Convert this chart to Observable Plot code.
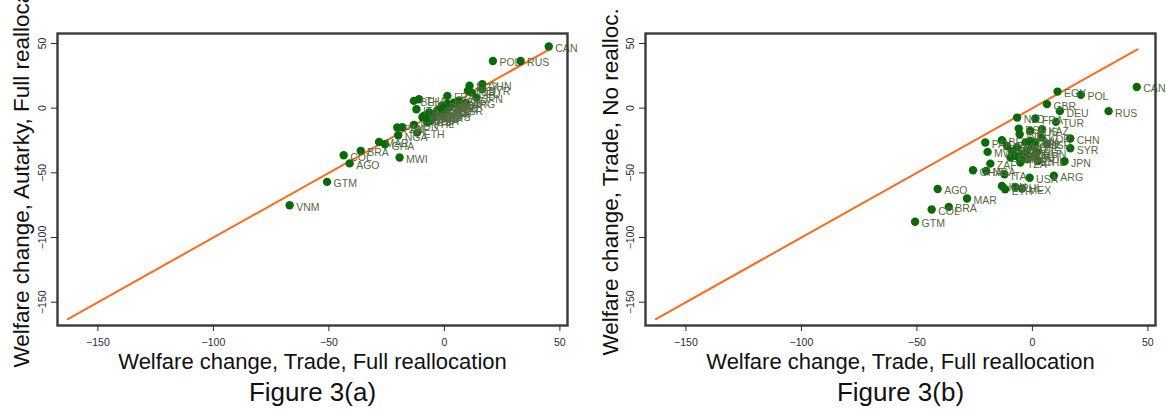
<!DOCTYPE html>
<html><head><meta charset="utf-8">
<script src="https://cdn.jsdelivr.net/npm/d3@7"></script>
<script src="https://cdn.jsdelivr.net/npm/@observablehq/plot@0.6"></script>
<style>
html,body{margin:0;padding:0;background:#fff;}
#wrap{position:relative;width:1166px;height:409px;overflow:hidden;}
#pa,#pb{position:absolute;top:0;width:583px;height:409px;}
#pa{left:0}#pb{left:583px}
</style></head><body><div id="wrap"><div id="pa"></div><div id="pb"></div></div>
<script>
const countries = ["CAN","POL","RUS","EGY","GBR","DEU","TUR","CHN","SYR","JPN","ARG","USA","AGO","MAR","BRA","COL","GTM","VNM","GHA","MWI","PAK","ZAF","NGA","FRA","NLD","KAZ","ESP","IND","AUS","KOR","BEL","ITA","IDN","ETH","MEX","PHL","THA","IRN","SAU","BGD","UKR","SWE","CHE","AUT","HUN","KEN","ROU","CZE","DNK","FIN","TZA","PER","CHL","ISR"];
const tradeFull      = [45.2,21.0,33.0,10.9,6.3,11.9,10.2,16.4,16.4,13.9,9.3,-1.2,-41.0,-28.3,-36.2,-43.6,-50.8,-67.0,-25.7,-19.4,-20.4,-18.2,-20.0,1.3,-6.6,4.2,-5.9,-5.5,-0.9,4.0,-13.2,-12.1,-13.2,-11.8,-4.5,-7.4,-11.0,-8.8,-7.4,-5.9,-4.5,-2.3,-0.1,0.6,2.0,-9.5,-6.6,-3.0,-0.9,1.3,-5.2,-2.3,2.3,6.4];
const autarkyFull    = [47.7,36.5,36.5,17.3,6.0,12.0,13.4,18.5,14.7,8.0,4.0,-3.0,-42.7,-26.1,-33.0,-36.4,-57.0,-75.0,-27.9,-38.2,-15.0,-14.8,-21.0,9.5,-3.4,4.3,-9.7,-5.9,-5.9,3.1,5.6,-0.8,-12.9,-18.9,-6.5,-11.1,6.9,-5.9,-8.0,-7.5,-4.4,-2.0,1.0,-3.0,0.5,-7.0,-6.0,-1.5,2.0,3.5,-8.5,-4.5,1.5,-0.8];
const tradeNoRealloc = [16.3,10.3,-2.3,12.8,3.1,-2.3,-10.5,-23.5,-31.0,-41.0,-52.2,-53.8,-62.5,-69.8,-76.3,-78.3,-87.8,null,-48.0,-33.8,-26.6,-42.9,-48.6,-8.0,-7.3,-16.3,-15.8,-20.2,-17.6,-22.7,-24.8,-51.1,-60.2,-62.7,-62.2,-60.9,-29.2,-33.1,-36.9,-38.2,-35.6,-33.1,-29.2,-36.9,-34.3,-38.2,-30.5,-26.6,-25.3,-26.6,-42.1,-39.5,-40.8,-27.5];
const xTicks = [-150,-100,-50,0,50];
const yTicks = [-150,-100,-50,0,50];
const diagonal = [-163, 45.5];
const xTitle = "Welfare change, Trade, Full reallocation";
const FONT = "'Liberation Sans', Arial, Helvetica, sans-serif";

function panel({yValues, yTitle, caption, marginLeft, marginRight, titleDx, titleDy}) {
  const data = countries.map((c, i) => ({code: c, x: tradeFull[i], y: yValues[i]})).filter(d => d.y != null);
  const diag = diagonal.map(v => ({x: v, y: v}));
  return Plot.plot({
    width: 583, height: 409,
    marginTop: 33, marginBottom: 84, marginLeft, marginRight,
    style: {fontFamily: FONT, background: "white"},
    x: {domain: [-167.5, 53.3]},
    y: {domain: [-168, 57.7]},
    marks: [
      Plot.line(diag, {x: "x", y: "y", stroke: "#ff6a1a", strokeWidth: 2}),
      Plot.dot(data, {x: "x", y: "y", r: 4.2, fill: "#0a6a0a"}),
      Plot.text(data, {x: "x", y: "y", text: "code", dx: 6.5, dy: 2, textAnchor: "start", fontSize: 10.5, fill: "#566a42"}),
      Plot.frame({stroke: "#3a3a3a", strokeWidth: 2.4}),
      Plot.axisX({ticks: xTicks, tickSize: 6, tickPadding: 7, fontSize: 10.5, label: null, color: "#2a2a38"}),
      Plot.axisY({ticks: yTicks, tickSize: 6, tickPadding: 6, tickRotate: -90, fontSize: 10.5, label: null, color: "#2a2a38"}),
      Plot.text([xTitle], {frameAnchor: "bottom", dy: 43, fontSize: 22, lineAnchor: "bottom", fill: "#111"}),
      Plot.text([caption], {frameAnchor: "bottom", dy: 75, fontSize: 26, lineAnchor: "bottom", fill: "#111"}),
      Plot.text([yTitle], {frameAnchor: "bottom-left", rotate: -90, textAnchor: "start", lineAnchor: "bottom", dx: titleDx, dy: titleDy, fontSize: 22.5, fill: "#111"})
    ]
  });
}

document.getElementById("pa").append(panel({
  yValues: autarkyFull, yTitle: "Welfare change, Autarky, Full reallocation", caption: "Figure 3(a)",
  marginLeft: 57, marginRight: 16, titleDx: -28.7, titleDy: 42
}));
document.getElementById("pb").append(panel({
  yValues: tradeNoRealloc, yTitle: "Welfare change, Trade, No realloc.", caption: "Figure 3(b)",
  marginLeft: 62, marginRight: 11, titleDx: -27.5, titleDy: 30
}));
</script></body></html>
